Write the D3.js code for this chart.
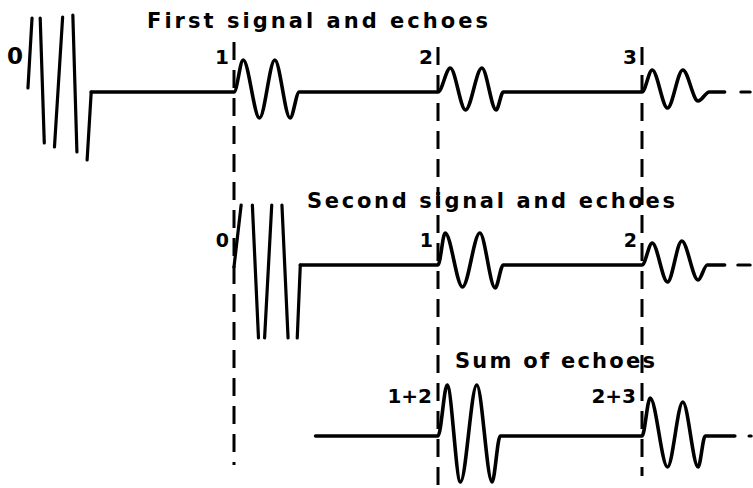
<!DOCTYPE html>
<html><head><meta charset="utf-8">
<script src="https://cdn.jsdelivr.net/npm/d3@7"></script>
<style>body{margin:0;background:#fff;overflow:hidden}</style>
</head><body>
<svg id="c" width="753" height="488"></svg>
<script>
// ---- data (time in arbitrary units, one echo interval = 100; amplitude in arbitrary units) ----
const titles = ["First signal and echoes", "Second signal and echoes", "Sum of echoes"];
const echoTimes = [100, 200, 300];

const row1Labels = [{t: 0, text: "0"}, {t: 100, text: "1"}, {t: 200, text: "2"}, {t: 300, text: "3"}];
const row2Labels = [{t: 100, text: "0"}, {t: 200, text: "1"}, {t: 300, text: "2"}];
const row3Labels = [{t: 200, text: "1+2"}, {t: 300, text: "2+3"}];

const row1Burst = [
  [[-1, 0.4], [1, 7.4]],
  [[5, 7.4], [7, -5.1]],
  [[12, -5.5], [16, 7.5]],
  [[21, 7.7], [23, -6.0]],
  [[28, -6.8], [30, 0]]
];
const row1Trace = [[30,0],[100,0],[104.5,3.2],[112.5,-2.6],[120,3.2],[127.5,-2.6],[132,0],[200,0],
  [206,2.4],[213.5,-1.8],[221.5,2.4],[228.5,-1.8],[232,0],[300,0],
  [305,2.2],[312.5,-1.6],[320,2.2],[327.5,-0.9],[333,0],[340.5,0]];
const row1Tail = [[348.5,0],[353,0]];

const row2Burst = [
  [[100, -0.2], [103.5, 6]],
  [[109, 6], [112, -7.3]],
  [[115, -7.3], [118.5, 6]],
  [[123.5, 6], [126.5, -7.3]],
  [[131, -7.3], [132.5, 0]]
];
const row2Trace = [[132.5,0],[200,0],[203.5,3.2],[212,-2.2],[220.5,3.2],[228,-2.3],[232,0],[300,0],
  [305,2.2],[312.5,-1.7],[319.5,2.4],[327.5,-1.5],[332,0],[340.5,0]];
const row2Tail = [[347,0],[353,0]];

const row3Trace = [[140,0],[200,0],[204.5,5.1],[211,-4.6],[219,5.1],[226.5,-4.6],[230.5,0],[300,0],
  [304,3.8],[312.5,-3.1],[320,3.4],[327.5,-3.1],[331,0],[345.5,0]];
const row3Tail = [[352.5,0],[353.5,0]];

// marker extents: [row, amplitude] at top and bottom
const markerTop = [[0, 5.0], [0, 4.5], [0, 4.5]];
const markerBottom = [[2, -2.9], [2, -5.0], [2, -4.0]];

// ---- layout ----
const svg = d3.select("#c");
const x = d3.scaleLinear().domain([0, 300]).range([30, 642]);
const rowBase = [92, 265, 436];
const ys = rowBase.map(b => d3.scaleLinear().domain([-10, 10]).range([b + 100, b - 100]));
const font = "'DejaVu Sans', sans-serif";

// dashed markers
svg.append("g").selectAll("line").data(echoTimes).join("line")
  .attr("x1", d => x(d)).attr("x2", d => x(d))
  .attr("y1", (d, i) => ys[markerTop[i][0]](markerTop[i][1]))
  .attr("y2", (d, i) => ys[markerBottom[i][0]](markerBottom[i][1]))
  .attr("stroke", "#000").attr("stroke-width", 3).attr("stroke-dasharray", "18,10");

function drawRow(ri, burst, trace, tail) {
  const y = ys[ri];
  const straight = d3.line().x(d => x(d[0])).y(d => y(d[1]));
  const smooth = d3.line().x(d => x(d[0])).y(d => y(d[1])).curve(d3.curveMonotoneX);
  const g = svg.append("g");
  g.selectAll("path.b").data(burst).join("path").attr("class", "b")
    .attr("d", straight).attr("fill", "none").attr("stroke", "#000")
    .attr("stroke-width", 3.2).attr("stroke-linecap", "round");
  g.append("path").datum(trace).attr("d", smooth).attr("fill", "none")
    .attr("stroke", "#000").attr("stroke-width", 3.6).attr("stroke-linejoin", "round").attr("stroke-linecap", "round");
  g.append("path").datum(tail).attr("d", straight).attr("fill", "none")
    .attr("stroke", "#000").attr("stroke-width", 3.2).attr("stroke-linecap", "round");
}
drawRow(0, row1Burst, row1Trace, row1Tail);
drawRow(1, row2Burst, row2Trace, row2Tail);
drawRow(2, [], row3Trace, row3Tail);

// titles
const titleLayout = [{x: 147, y: 28, len: 341}, {x: 307, y: 208, len: 368}, {x: 455, y: 368, len: 200}];
svg.append("g").selectAll("text").data(titles).join("text")
  .attr("x", (d, i) => titleLayout[i].x).attr("y", (d, i) => titleLayout[i].y)
  .attr("textLength", (d, i) => titleLayout[i].len).attr("lengthAdjust", "spacing")
  .attr("font-family", font).attr("font-weight", "bold").attr("font-size", 21)
  .attr("fill", "#000").text(d => d);

// labels
function drawLabels(ri, labels, dy, dx, size) {
  svg.append("g").selectAll("text").data(labels).join("text")
    .attr("x", d => x(d.t) + (d.t === 0 ? -7 : dx))
    .attr("y", () => ys[ri](0) + dy)
    .attr("text-anchor", "end")
    .attr("font-family", font).attr("font-weight", "bold")
    .attr("font-size", d => (d.t === 0 ? size + 3 : size))
    .attr("fill", "#000").text(d => d.text);
}
drawLabels(0, row1Labels, -28, -5, 20);
drawLabels(1, row2Labels, -18, -5, 19);
drawLabels(2, row3Labels, -33, -6, 20);
</script>
</body></html>
